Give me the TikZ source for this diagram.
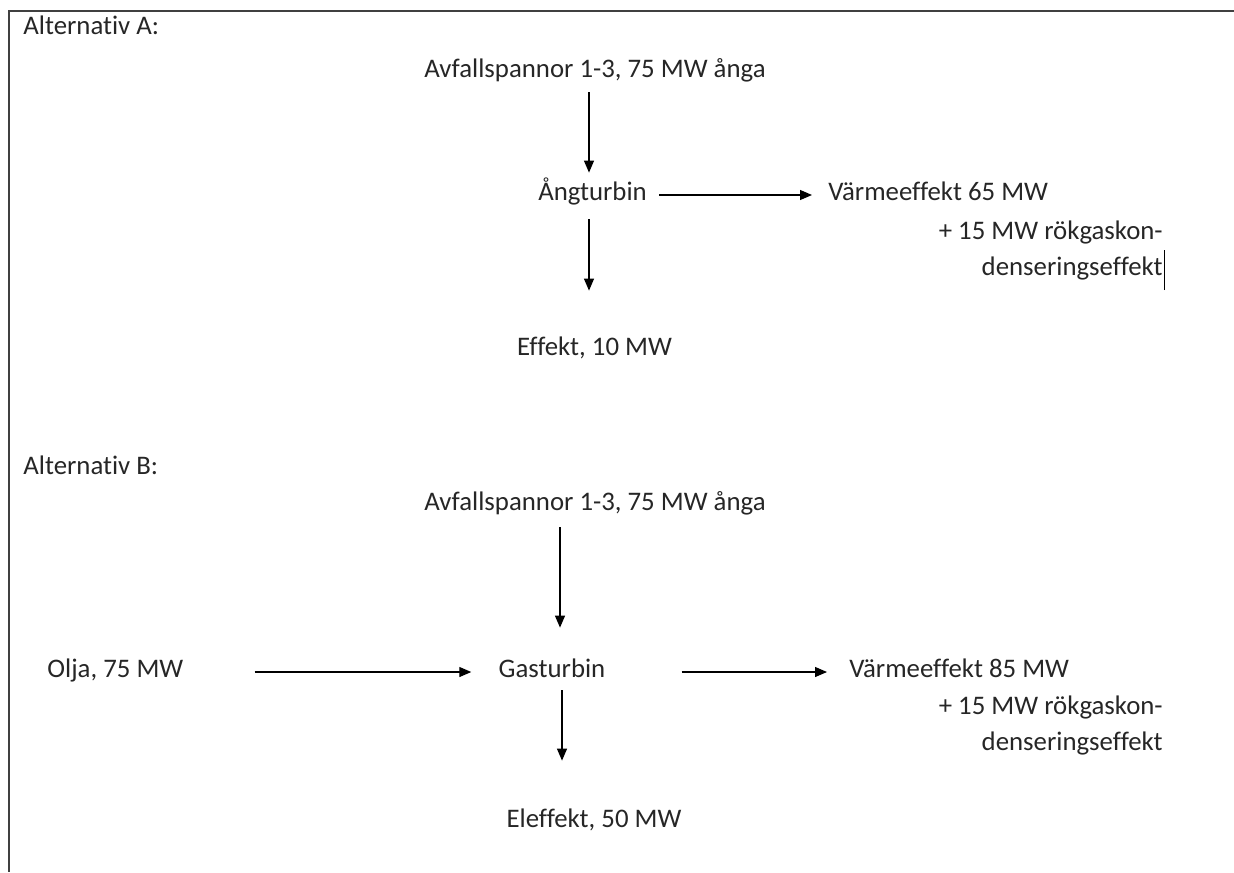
\documentclass[tikz,border=0pt]{standalone}
\usepackage{fontspec}
\setmainfont{Carlito}[Ligatures=NoCommon]
\usetikzlibrary{arrows.meta}
\tikzset{
  txt/.style={inner sep=0pt, text height=0.65em, text depth=0.15em, text=black!85, font=\fontsize{13.4}{18}\selectfont},
  pil/.style={-{Triangle[length=6pt,width=5pt]}, line width=0.6pt},
  ram/.style={line width=1pt, draw=black!75}
}
\begin{document}
\begin{tikzpicture}[x=0.5pt, y=-0.5pt]
	\useasboundingbox (0,0) rectangle (1234,872);
	% frame
	\draw[ram] (1234,11) -- (9,11) -- (9,872);

	% Alternativ A
	\node (altA) [txt, anchor=west] at (23,30) {Alternativ A:};
	\node (avfA) [txt] at (595,72) {Avfallspannor 1-3, 75 MW ånga};
	\node (angA) [txt] at (592.5,195) {Ångturbin};
	\node (varmA) [txt, anchor=west] at (828,195) {Värmeeffekt 65 MW};
	\node (rokA) [txt, anchor=east, text height=, text depth=, align=right] at (1163,250) {+ 15 MW rökgaskon-\\denseringseffekt};
	\node (effA) [txt] at (594.5,350) {Effekt, 10 MW};
	\draw[line width=0.5pt] (rokA.south east) ++(1.5,10) -- ++(0,-40);

	\draw[pil, shorten <=6pt, shorten >=7pt] ([xshift=-1.75pt]angA.north |- avfA.south) -- ([xshift=-1.75pt]angA.north);
	\draw[pil, shorten <=6pt, shorten >=8pt] (angA) -- (varmA);
	\draw[pil, shorten <=8pt, shorten >=25.5pt] ([xshift=-1.75pt]angA.south) -- ([xshift=-1.75pt]angA.south |- effA.north);

	% Alternativ B
	\node (altB) [txt, anchor=west] at (23,469) {Alternativ B:};
	\node (avfB) [txt] at (595,505) {Avfallspannor 1-3, 75 MW ånga};
	\node (oljaB) [txt, anchor=west] at (47,672) {Olja, 75 MW};
	\node (gasB) [txt] at (552,672) {Gasturbin};
	\node (varmB) [txt, anchor=west] at (849,672) {Värmeeffekt 85 MW};
	\node (rokB) [txt, anchor=east, text height=, text depth=, align=right] at (1163,725) {+ 15 MW rökgaskon-\\denseringseffekt};
	\node (elB) [txt] at (594,822) {Eleffekt, 50 MW};

	\draw[pil, shorten <=7pt, shorten >=18pt] ([xshift=4pt]gasB.north |- avfB.south) -- ([xshift=4pt]gasB.north);
	\draw[pil, shorten <=35.5pt, shorten >=13.5pt] (oljaB) -- (gasB);
	\draw[pil, shorten <=38pt, shorten >=11pt] (gasB) -- (varmB);
	\draw[pil, shorten <=5pt, shorten >=26.5pt] ([xshift=5pt]gasB.south) -- ([xshift=5pt]gasB.south |- elB.north);
\end{tikzpicture}
\end{document}
